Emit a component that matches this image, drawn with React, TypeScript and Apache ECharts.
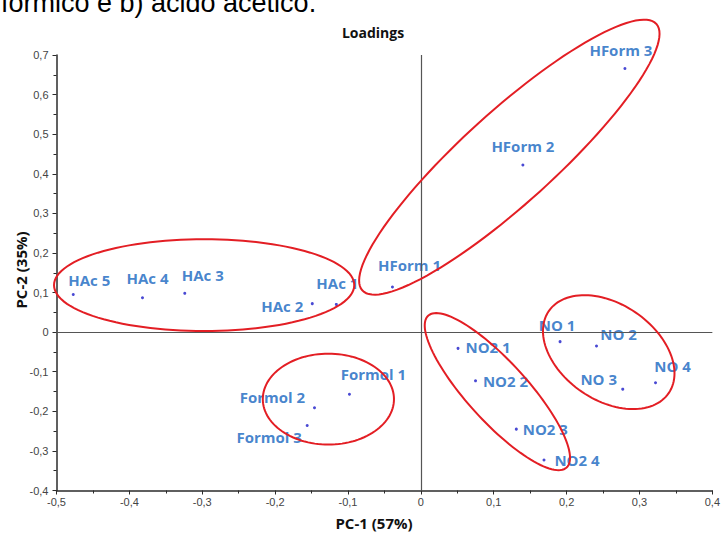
import React, { useEffect, useRef } from "react";
import * as echarts from "echarts";

const names = [
  "HAc 5", "HAc 4", "HAc 3", "HAc 2", "HAc 1",
  "HForm 1", "HForm 2", "HForm 3",
  "NO2 1", "NO2 2", "NO2 3", "NO2 4",
  "NO 1", "NO 2", "NO 3", "NO 4",
  "Formol 1", "Formol 2", "Formol 3",
];
const pc1 = [
  -0.477, -0.382, -0.324, -0.149, -0.116,
  -0.039, 0.14, 0.28,
  0.051, 0.075, 0.131, 0.169,
  0.191, 0.241, 0.277, 0.322,
  -0.098, -0.146, -0.156,
];
const pc2 = [
  0.095, 0.087, 0.098, 0.072, 0.07,
  0.114, 0.422, 0.666,
  -0.041, -0.123, -0.245, -0.323,
  -0.024, -0.035, -0.144, -0.128,
  -0.157, -0.191, -0.236,
];
// label offsets (px) relative to each point
const labelOffsets: [number, number][] = [
  [16, -15], [5, -20], [18, -18], [-30, 2], [1, -21],
  [17, -22], [0, -19], [-4, -18],
  [30, -1], [30, 0], [29, 0], [33, 0],
  [-3, -17], [22, -12], [-24, -10], [17, -17],
  [24, -20], [-42, -11], [-38, 11],
];
// group ellipses: centre (x,y), semi-axis vector U, semi-axis vector V (data units)
const ellipses: number[][] = [
  [-0.2974, 0.1187, 0.206, 0, 0, 0.116],
  [0.1214, 0.4419, 0.2018, 0.3364, -0.042, 0.0864],
  [0.105, -0.1503, 0.095, -0.1917, 0.0302, 0.0513],
  [0.2578, -0.0505, 0.0825, -0.103, 0.0366, 0.1005],
  [-0.1269, -0.1692, 0.09, 0, 0, 0.1149],
];
const xTitle = "PC-1 (57%)";
const yTitle = "PC-2 (35%)";
const chartTitle = "Loadings";
const captionText = "fórmico e b) ácido acético.";

const fmt = (v: number) => (Math.abs(v) < 1e-9 ? "0" : v.toFixed(1).replace(".", ","));

export default function App() {
  const ref = useRef<HTMLDivElement>(null);
  useEffect(() => {
    if (!ref.current) return;
    const chart = echarts.init(ref.current, undefined, { renderer: "svg" });
    const points = names.map((n, i) => ({
      name: n,
      value: [pc1[i], pc2[i]],
      label: { offset: labelOffsets[i] },
    }));
    const axisCommon = {
      axisLine: { show: true, onZero: false, lineStyle: { color: "#2b2b2b", width: 1.5 } },
      axisTick: { show: true, inside: false, length: 4, lineStyle: { color: "#2b2b2b" } },
      minorTick: { show: true, splitNumber: 2, length: 3, lineStyle: { color: "#2b2b2b" } },
      splitLine: { show: false },
      axisLabel: {
        color: "#444",
        fontSize: 11,
        fontFamily: "Liberation Sans, Arial, sans-serif",
        formatter: fmt,
      },
    };
    chart.setOption({
      animation: false,
      backgroundColor: "#fff",
      grid: { left: 56.5, right: 7, top: 55, bottom: 42.5, containLabel: false },
      xAxis: { type: "value", min: -0.5, max: 0.4, interval: 0.1, ...axisCommon, axisLabel: { ...axisCommon.axisLabel, margin: 6 } },
      yAxis: { type: "value", min: -0.4, max: 0.7, interval: 0.1, ...axisCommon, axisLabel: { ...axisCommon.axisLabel, margin: 8 } },
      graphic: [
        {
          type: "text", left: 1, top: -11,
          style: { text: captionText, fill: "#000", font: "27px Liberation Sans, Arial, sans-serif" },
        },
        {
          type: "text", x: 373, y: 32,
          style: { text: chartTitle, fill: "#111", font: "bold 14px Open Sans, sans-serif", align: "center", verticalAlign: "middle" },
        },
        {
          type: "text", x: 374, y: 523,
          style: { text: xTitle, fill: "#111", font: "bold 15px Open Sans, sans-serif", align: "center", verticalAlign: "middle" },
        },
        {
          type: "text", x: 21, y: 270, rotation: Math.PI / 2,
          style: { text: yTitle, fill: "#111", font: "bold 15px Open Sans, sans-serif", align: "center", verticalAlign: "middle" },
        },
      ],
      series: [
        {
          type: "scatter",
          symbol: "circle",
          symbolSize: 3,
          itemStyle: { color: "#1c1cc8" },
          label: {
            show: true,
            position: "inside",
            formatter: "{b}",
            color: "#1565c0",
            fontFamily: "Open Sans, sans-serif",
            fontWeight: "bold",
            fontSize: 15,
            align: "center",
            verticalAlign: "middle",
          },
          data: points,
          markLine: {
            silent: true,
            symbol: "none",
            label: { show: false },
            lineStyle: { color: "#555", width: 1.2, type: "solid" },
            data: [{ xAxis: 0 }, { yAxis: 0 }],
          },
          z: 3,
        },
        {
          type: "custom",
          coordinateSystem: "cartesian2d",
          clip: false,
          z: 5,
          silent: true,
          data: ellipses,
          encode: { x: 0, y: 1 },
          renderItem: (params: any, api: any) => {
            const cx = api.value(0), cy = api.value(1);
            const ux = api.value(2), uy = api.value(3);
            const vx = api.value(4), vy = api.value(5);
            const c = api.coord([cx, cy]);
            const pu = api.coord([cx + ux, cy + uy]);
            const pv = api.coord([cx + vx, cy + vy]);
            const U = [pu[0] - c[0], pu[1] - c[1]];
            const V = [pv[0] - c[0], pv[1] - c[1]];
            const pts: number[][] = [];
            const n = 120;
            for (let k = 0; k < n; k++) {
              const t = (2 * Math.PI * k) / n;
              pts.push([
                c[0] + U[0] * Math.cos(t) + V[0] * Math.sin(t),
                c[1] + U[1] * Math.cos(t) + V[1] * Math.sin(t),
              ]);
            }
            return {
              type: "polygon",
              shape: { points: pts },
              style: { fill: "none", stroke: "#e31e24", lineWidth: 2 },
            };
          },
        },
      ],
    });
    return () => chart.dispose();
  }, []);
  return <div ref={ref} style={{ width: 723, height: 533, position: "fixed", left: 0, top: 0 }} />;
}
